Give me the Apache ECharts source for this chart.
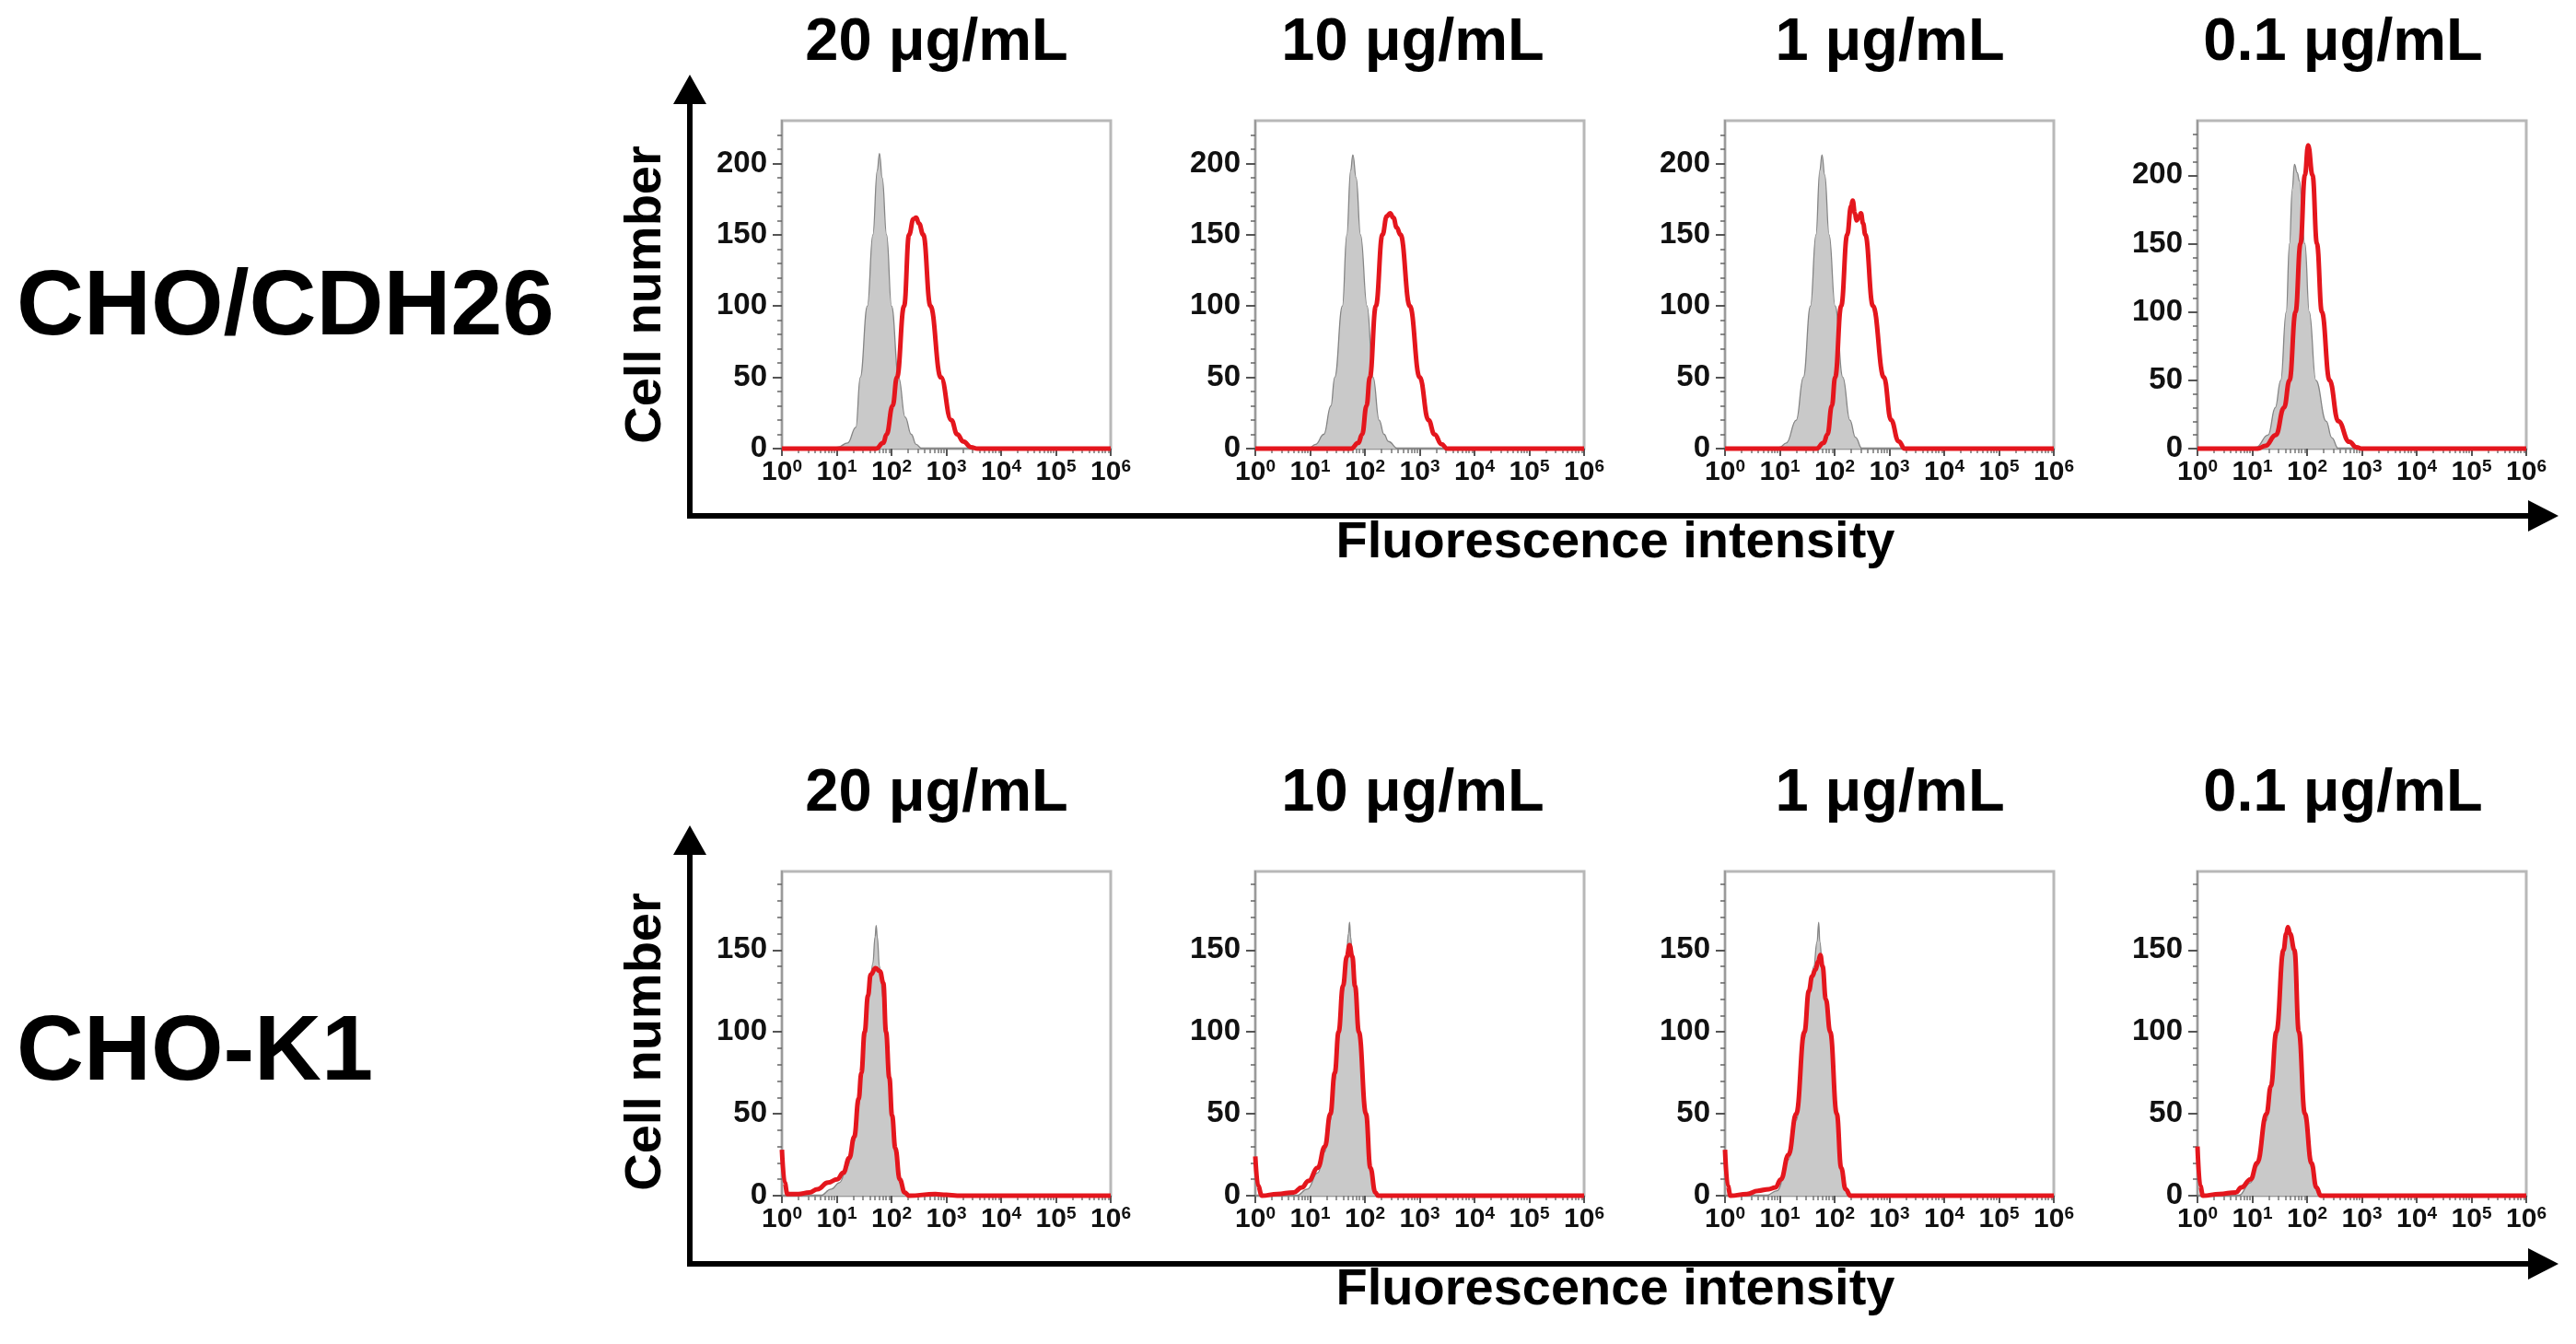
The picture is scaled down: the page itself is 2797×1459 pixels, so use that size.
<!DOCTYPE html>
<html><head><meta charset="utf-8">
<script src="https://cdn.jsdelivr.net/npm/echarts@6/dist/echarts.min.js"></script>
<style>html,body{margin:0;padding:0;background:#fff}#c{width:2797px;height:1459px}</style>
</head><body><div id="c"></div>
<script>
// ---------------- DATA ----------------
const concentrations = ['20 μg/mL', '10 μg/mL', '1 μg/mL', '0.1 μg/mL'];
const cellLines = ['CHO/CDH26', 'CHO-K1'];
const axisTitleY = 'Cell number';
const axisTitleX = 'Fluorescence intensity';
const xTickExponents = [0, 1, 2, 3, 4, 5, 6];      // 10^0 ... 10^6
const yTicksCDH26 = [0, 50, 100, 150, 200];
const yTicksK1 = [0, 50, 100, 150];
const yMaxCDH26 = [230, 230, 230, 240];
const yMaxK1 = [198, 198, 198, 198];

// points: [log10(fluorescence intensity), cell number]
// CHO/CDH26 — grey = control, red = antibody
const cdh26_20_ctrl = [[0,0],[0.9,0],[1.02,1],[1.2,4],[1.35,15],[1.43,50],[1.56,100],[1.66,150],[1.74,195],[1.78,207],[1.83,190],[1.91,150],[2.0,100],[2.13,50],[2.25,22],[2.36,10],[2.45,3],[2.55,0],[6,0]];
const cdh26_20_ab   = [[0,0],[1.72,0],[1.85,4],[1.91,10],[2.02,30],[2.10,50],[2.23,100],[2.32,150],[2.40,161],[2.45,162],[2.5,158],[2.58,150],[2.71,100],[2.9,50],[3.09,20],[3.2,10],[3.31,5],[3.45,1],[3.57,0],[6,0]];
const cdh26_10_ctrl = [[0,0],[0.97,0],[1.1,3],[1.25,10],[1.38,30],[1.45,50],[1.59,100],[1.67,150],[1.74,195],[1.78,206],[1.84,190],[1.92,150],[2.04,100],[2.15,50],[2.26,20],[2.35,10],[2.43,5],[2.6,0],[6,0]];
const cdh26_10_ab   = [[0,0],[1.75,0],[1.88,4],[1.95,10],[2.03,30],[2.09,50],[2.2,100],[2.32,150],[2.4,163],[2.46,165],[2.52,162],[2.58,155],[2.65,150],[2.82,100],[3.0,50],[3.16,20],[3.27,10],[3.4,3],[3.5,0],[6,0]];
const cdh26_1_ctrl  = [[0,0],[0.95,0],[1.0,1],[1.12,4],[1.3,20],[1.43,50],[1.56,100],[1.66,150],[1.73,195],[1.77,206],[1.82,192],[1.9,150],[2.01,100],[2.15,50],[2.28,20],[2.38,8],[2.5,0],[6,0]];
const cdh26_1_ab    = [[0,0],[1.67,0],[1.8,4],[1.87,10],[1.95,30],[2.01,50],[2.12,100],[2.23,150],[2.3,170],[2.33,174],[2.37,165],[2.4,160],[2.45,163],[2.48,165],[2.52,158],[2.56,150],[2.7,100],[2.9,50],[3.03,20],[3.17,5],[3.28,0],[6,0]];
const cdh26_01_ctrl = [[0,0],[0.95,0],[1.07,1],[1.29,10],[1.42,30],[1.52,50],[1.62,100],[1.68,150],[1.73,190],[1.77,208],[1.82,202],[1.86,196],[1.96,150],[2.04,100],[2.16,50],[2.35,20],[2.45,8],[2.57,0],[6,0]];
const cdh26_01_ab   = [[0,0],[1.1,0],[1.24,2],[1.43,10],[1.58,30],[1.68,50],[1.79,100],[1.88,150],[1.96,200],[2.02,222],[2.1,200],[2.18,150],[2.27,100],[2.41,50],[2.57,20],[2.77,5],[2.9,1],[3.0,0],[6,0]];
// CHO-K1
const k1_20_ctrl = [[0,0],[0.7,0],[0.9,4],[1.05,8],[1.2,18],[1.32,33],[1.4,55],[1.51,95],[1.6,125],[1.66,142],[1.7,158],[1.72,165],[1.74,158],[1.78,140],[1.85,120],[1.9,95],[1.96,68],[2.01,45],[2.07,25],[2.15,8],[2.24,1],[2.3,0],[6,0]];
const k1_20_ab   = [[0,28],[0.05,8],[0.1,1],[0.3,1],[0.5,2],[0.65,4],[0.84,8],[1.01,10],[1.12,14],[1.23,23],[1.32,36],[1.4,59],[1.45,75],[1.51,100],[1.57,122],[1.62,135],[1.71,139],[1.79,137],[1.85,130],[1.9,100],[1.96,72],[2.01,49],[2.07,29],[2.15,10],[2.24,2],[2.32,0],[2.8,1],[3.0,0.5],[3.2,0],[6,0]];
const k1_10_ctrl = [[0,0],[0.75,0],[0.95,4],[1.14,14],[1.27,27],[1.37,46],[1.45,70],[1.52,96],[1.6,124],[1.66,145],[1.7,160],[1.72,167],[1.74,158],[1.78,140],[1.82,124],[1.89,97],[2.02,47],[2.1,16],[2.19,2],[2.24,0],[6,0]];
const k1_10_ab   = [[0,24],[0.05,6],[0.12,0],[0.4,1],[0.7,2],[0.85,5],[0.97,9],[1.14,17],[1.27,30],[1.37,50],[1.45,75],[1.52,100],[1.6,128],[1.67,146],[1.72,153],[1.77,146],[1.82,128],[1.89,100],[2.02,50],[2.1,17],[2.19,2],[2.24,0],[6,0]];
const k1_1_ctrl  = [[0,0],[0.75,0],[0.95,3],[1.16,22],[1.3,46],[1.45,96],[1.55,125],[1.62,140],[1.68,155],[1.71,167],[1.73,155],[1.78,138],[1.84,118],[1.92,97],[2.04,47],[2.12,15],[2.2,3],[2.27,0],[6,0]];
const k1_1_ab    = [[0,28],[0.05,6],[0.1,0],[0.4,1],[0.6,3],[0.8,4],[0.92,5],[1.02,10],[1.16,25],[1.3,50],[1.45,100],[1.53,125],[1.59,134],[1.65,138],[1.7,143],[1.74,147],[1.78,140],[1.84,120],[1.92,100],[2.04,50],[2.12,17],[2.2,4],[2.29,0],[6,0]];
const k1_01_ctrl = [[0,0],[0.75,0],[0.97,8],[1.09,18],[1.26,46],[1.37,75],[1.44,96],[1.57,146],[1.62,158],[1.65,163],[1.69,158],[1.77,146],[1.85,96],[1.96,46],[2.08,17],[2.17,3],[2.23,0],[6,0]];
const k1_01_ab   = [[0,30],[0.05,6],[0.1,0],[0.4,1],[0.7,2],[0.8,5],[0.97,10],[1.09,20],[1.26,50],[1.34,67],[1.44,100],[1.57,150],[1.62,160],[1.65,164],[1.69,160],[1.77,150],[1.85,100],[1.96,50],[2.08,20],[2.17,5],[2.25,0],[6,0]];

// ---------------- LAYOUT / STYLE ----------------
const FONT = "'Liberation Sans', Arial, Helvetica, sans-serif";
const RED = '#e4161d';
const panelLefts = [849, 1363, 1873, 2386];
const panelWidth = 357;
const rowTops = [131, 946];
const rowHeights = [356, 352];
const titleX = [1017, 1534, 2052, 2544];

const rows = [
  { ctrl: [cdh26_20_ctrl, cdh26_10_ctrl, cdh26_1_ctrl, cdh26_01_ctrl],
    ab:   [cdh26_20_ab, cdh26_10_ab, cdh26_1_ab, cdh26_01_ab],
    yMax: yMaxCDH26, yTicks: yTicksCDH26 },
  { ctrl: [k1_20_ctrl, k1_10_ctrl, k1_1_ctrl, k1_01_ctrl],
    ab:   [k1_20_ab, k1_10_ab, k1_1_ab, k1_01_ab],
    yMax: yMaxK1, yTicks: yTicksK1 }
];

// log minor tick positions (2..9 within each decade)
const xMinor = [];
for (let d = 0; d < 6; d++) for (let k = 2; k <= 9; k++) xMinor.push(d + Math.log10(k));

const grid = [], xAxis = [], yAxis = [], series = [];
rows.forEach((row, r) => {
  for (let c = 0; c < 4; c++) {
    const g = grid.length;
    grid.push({ left: panelLefts[c], top: rowTops[r], width: panelWidth, height: rowHeights[r],
      show: true, borderColor: '#b8b8b8', borderWidth: 3, backgroundColor: '#fff' });
    const yMinorVals = [];
    for (let v = 10; v < row.yMax[c]; v += 10) if (v % 50 !== 0) yMinorVals.push(v);
    const xi = xAxis.length, yi = yAxis.length;
    xAxis.push({ gridIndex: g, type: 'value', min: 0, max: 6, interval: 1, position: 'bottom',
      axisLine: { show: true, onZero: false, lineStyle: { color: '#9a9a9a', width: 2 } },
      axisTick: { show: true, length: 8, lineStyle: { color: '#555', width: 2 } },
      splitLine: { show: false },
      axisLabel: { margin: 10, color: '#111', formatter: v => '{b|10}{s|' + v + '}',
        rich: { b: { fontFamily: FONT, fontWeight: 'bold', fontSize: 30, color: '#111' },
                s: { fontFamily: FONT, fontWeight: 'bold', fontSize: 19, color: '#111', padding: [0, 0, 13, 0] } } } });
    xAxis.push({ gridIndex: g, type: 'value', min: 0, max: 6, position: 'bottom',
      axisLine: { show: false, onZero: false },
      axisTick: { show: true, length: 5, customValues: xMinor, lineStyle: { color: '#777', width: 1.5 } },
      axisLabel: { show: false }, splitLine: { show: false } });
    yAxis.push({ gridIndex: g, type: 'value', min: 0, max: row.yMax[c], interval: 50, position: 'left',
      axisLine: { show: true, onZero: false, lineStyle: { color: '#9a9a9a', width: 2 } },
      axisTick: { show: true, length: 10, customValues: row.yTicks, lineStyle: { color: '#555', width: 2 } },
      splitLine: { show: false },
      axisLabel: { customValues: row.yTicks, margin: 16, fontFamily: FONT, fontWeight: 'bold', fontSize: 33, color: '#111' } });
    yAxis.push({ gridIndex: g, type: 'value', min: 0, max: row.yMax[c], position: 'left',
      axisLine: { show: false, onZero: false },
      axisTick: { show: true, length: 5, customValues: yMinorVals, lineStyle: { color: '#666', width: 1.5 } },
      axisLabel: { show: false }, splitLine: { show: false } });
    series.push({ type: 'line', xAxisIndex: xi, yAxisIndex: yi, data: row.ctrl[c],
      smooth: 0.45, smoothMonotone: 'x', showSymbol: false, symbol: 'none', clip: true, z: 3,
      lineStyle: { color: '#858585', width: 1.3 }, areaStyle: { color: '#c9c9c9', opacity: 1 } });
    series.push({ type: 'line', xAxisIndex: xi, yAxisIndex: yi, data: row.ab[c],
      smooth: 0.45, smoothMonotone: 'x', showSymbol: false, symbol: 'none', clip: false, z: 4,
      lineStyle: { color: RED, width: 5 } });
  }
});

// ---------------- GRAPHICS (texts, arrows) ----------------
const graphic = [];
const rowLabelY = [335, 1144];
const titleBaseY = [80, 895];
const yArrowTip = [81, 896];
const xArrowY = [560, 1372];
const cellNumY = [320, 1131];
const fluoBaseY = [618, 1429];
const arrowX = 749;
for (let r = 0; r < 2; r++) {
  graphic.push({ type: 'text', style: { x: 18, y: rowLabelY[r], text: cellLines[r], font: 'bold 101px ' + FONT,
    fill: '#000', textAlign: 'left', textVerticalAlign: 'middle' } });
  for (let c = 0; c < 4; c++) {
    graphic.push({ type: 'text', style: { x: titleX[c], y: titleBaseY[r], text: concentrations[c],
      font: 'bold 65px ' + FONT, fill: '#000', textAlign: 'center', textVerticalAlign: 'bottom' } });
  }
  // y arrow
  graphic.push({ type: 'line', shape: { x1: arrowX, y1: yArrowTip[r] + 25, x2: arrowX, y2: xArrowY[r] + 3 },
    style: { stroke: '#000', lineWidth: 6 } });
  graphic.push({ type: 'polygon', shape: { points: [[arrowX - 18, yArrowTip[r] + 32], [arrowX + 18, yArrowTip[r] + 32], [arrowX, yArrowTip[r]]] },
    style: { fill: '#000' } });
  // x arrow
  graphic.push({ type: 'line', shape: { x1: arrowX - 3, y1: xArrowY[r], x2: 2750, y2: xArrowY[r] },
    style: { stroke: '#000', lineWidth: 6 } });
  graphic.push({ type: 'polygon', shape: { points: [[2745, xArrowY[r] - 17], [2745, xArrowY[r] + 17], [2778, xArrowY[r]]] },
    style: { fill: '#000' } });
  graphic.push({ type: 'text', x: 702, y: cellNumY[r], rotation: Math.PI / 2,
    style: { x: 0, y: 0, text: axisTitleY, font: 'bold 56px ' + FONT, fill: '#000', textAlign: 'center', textVerticalAlign: 'middle' } });
  graphic.push({ type: 'text', style: { x: 1754, y: fluoBaseY[r], text: axisTitleX, font: 'bold 56px ' + FONT,
    fill: '#000', textAlign: 'center', textVerticalAlign: 'bottom' } });
}

const chart = echarts.init(document.getElementById('c'), null, { renderer: 'canvas' });
chart.setOption({ backgroundColor: '#fff', animation: false, grid, xAxis, yAxis, series, graphic });
</script>
</body></html>
